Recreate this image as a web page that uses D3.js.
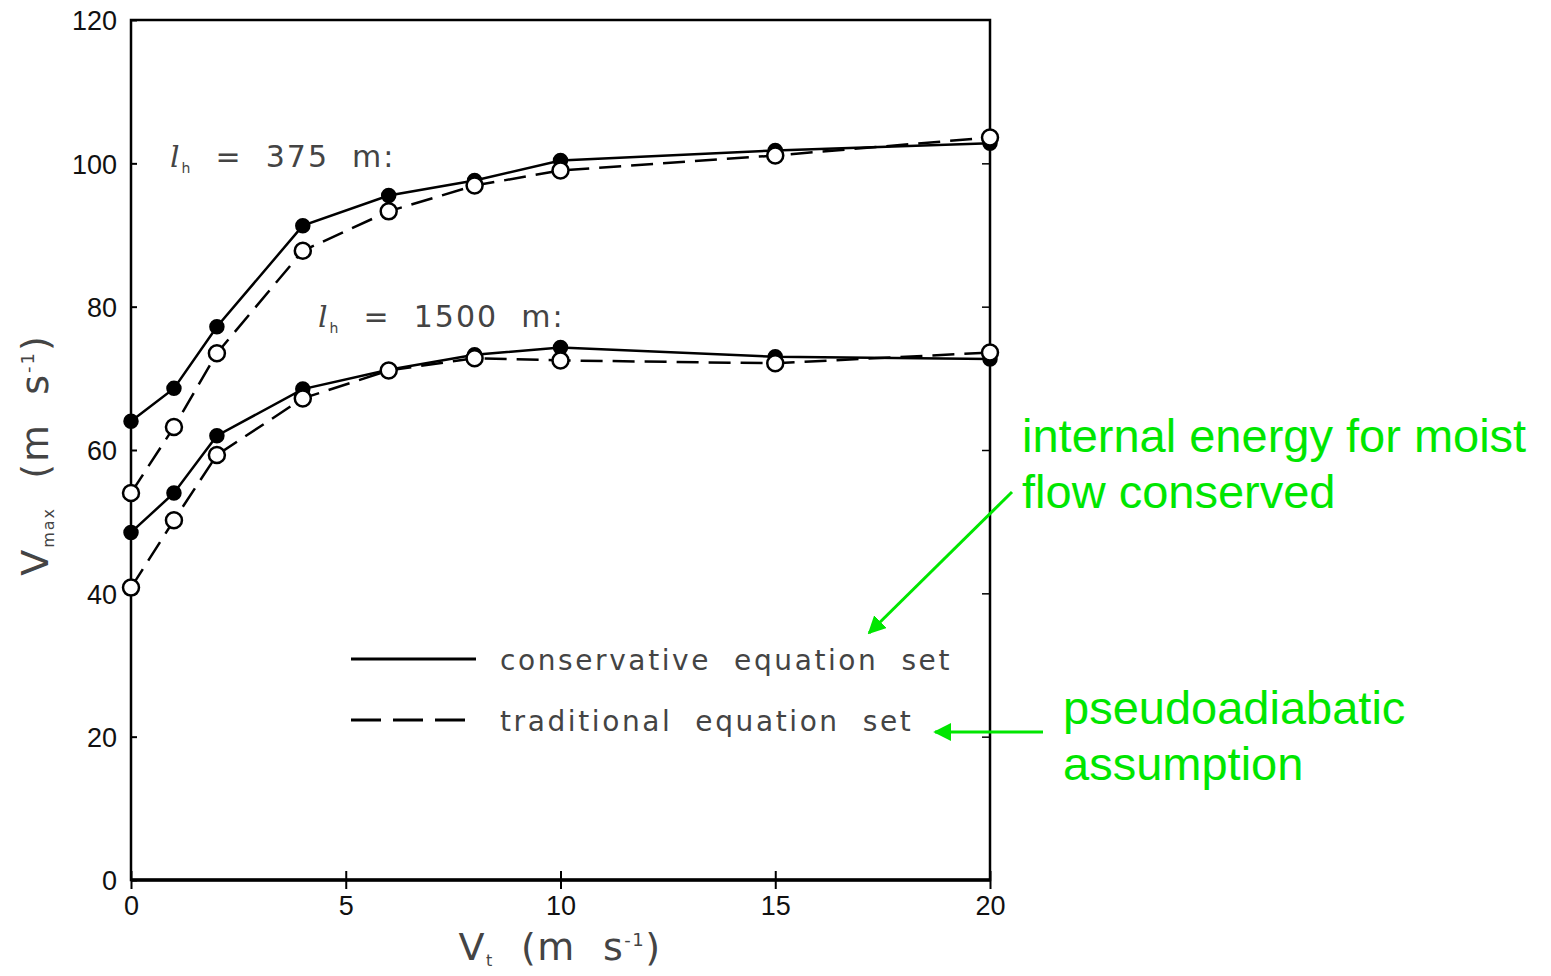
<!DOCTYPE html>
<html>
<head>
<meta charset="utf-8">
<script src="https://cdn.jsdelivr.net/npm/d3@7"></script>
<style>
  body { margin: 0; background: #fff; }
  svg { display: block; }
  .tick text { font-family: "Liberation Sans", Arial, sans-serif; font-size: 27px; fill: #111; }
  .plotfont { font-family: "DejaVu Sans", sans-serif; fill: #444; }
  .note { font-family: "Liberation Sans", Arial, sans-serif; font-size: 47px; fill: #00e600; }
</style>
</head>
<body>
<svg width="1551" height="976"></svg>
<script>
"use strict";

// Vt values (m s-1)
var vt = [0, 1, 2, 4, 6, 8, 10, 15, 20];

// Vmax (m s-1)
var cons375 = [64.0, 68.6, 77.2, 91.3, 95.5, 97.6, 100.4, 101.8, 102.8];
var trad375 = [54.0, 63.2, 73.5, 87.8, 93.3, 96.9, 99.0, 101.1, 103.6];
var cons1500 = [48.5, 54.0, 62.0, 68.5, 71.2, 73.3, 74.3, 73.0, 72.7];
var trad1500 = [40.8, 50.2, 59.3, 67.2, 71.1, 72.8, 72.5, 72.1, 73.6];

var xTicks = [0, 5, 10, 15, 20];
var yTicks = [0, 20, 40, 60, 80, 100, 120];

var svg = d3.select("svg");
var margin = { top: 20, left: 131 };
var width = 859;
var height = 860;

var x = d3.scaleLinear().domain([0, 20]).range([0, width]);
var y = d3.scaleLinear().domain([0, 120]).range([height, 0]);

var g = svg.append("g").attr("transform", "translate(" + margin.left + ", " + margin.top + ")");

// frame
g.append("rect").attr("x", 0).attr("y", 0).attr("width", width).attr("height", height)
    .attr("fill", "none").attr("stroke", "#000").attr("stroke-width", 2.5);
g.append("line").attr("x1", 0).attr("x2", width).attr("y1", height).attr("y2", height)
    .attr("stroke", "#000").attr("stroke-width", 3.5);

// axes (ticks crossing the frame)
var xAxis = g.append("g").attr("transform", "translate(0, " + height + ")")
    .call(d3.axisBottom(x).tickValues(xTicks).tickSize(9).tickPadding(7));
xAxis.select(".domain").remove();
xAxis.selectAll(".tick line").attr("y1", -9).attr("stroke-width", 2);

var yAxis = g.append("g")
    .call(d3.axisLeft(y).tickValues(yTicks).tickSize(10).tickPadding(4));
yAxis.select(".domain").remove();
yAxis.selectAll(".tick line").attr("x2", 6).attr("stroke-width", 2);
yAxis.selectAll(".tick text").attr("dy", "0.36em");

// small inward ticks on right side
var yRight = g.append("g").attr("transform", "translate(" + width + ", 0)")
    .call(d3.axisLeft(y).tickValues([20, 40, 60, 80, 100]).tickSize(8).tickFormat(""));
yRight.select(".domain").remove();
yRight.selectAll(".tick line").attr("stroke-width", 1.5);

// lines
var line = d3.line().x(function (d) { return x(d[0]); }).y(function (d) { return y(d[1]); });

var series = [
    { vals: cons375, dashed: false },
    { vals: trad375, dashed: true },
    { vals: cons1500, dashed: false },
    { vals: trad1500, dashed: true }
];

series.forEach(function (s) {
    var pts = vt.map(function (v, i) { return [v, s.vals[i]]; });
    g.append("path").datum(pts).attr("d", line)
        .attr("fill", "none").attr("stroke", "#000").attr("stroke-width", 2.5)
        .attr("stroke-dasharray", s.dashed ? "22,10" : null);
});

series.forEach(function (s) {
    var pts = vt.map(function (v, i) { return [v, s.vals[i]]; });
    g.selectAll(null).data(pts).enter().append("circle")
        .attr("cx", function (d) { return x(d[0]); })
        .attr("cy", function (d) { return y(d[1]); })
        .attr("r", s.dashed ? 8 : 6.5)
        .attr("fill", s.dashed ? "#fff" : "#000")
        .attr("stroke", "#000").attr("stroke-width", 2.5);
});

// curve labels
function lhLabel(px, py, val) {
    var t = svg.append("text").attr("class", "plotfont").attr("x", px).attr("y", py)
        .attr("font-size", 30).attr("letter-spacing", 2);
    t.append("tspan").attr("font-style", "italic").attr("font-family", "DejaVu Serif").text("l");
    t.append("tspan").attr("font-size", 14).attr("dy", 6).text("h");
    t.append("tspan").attr("dy", -6).attr("xml:space", "preserve").text("  =  " + val + "  m:");
}
lhLabel(170, 167, "375");
lhLabel(318, 327, "1500");

// legend
svg.append("line").attr("x1", 351).attr("x2", 476).attr("y1", 659).attr("y2", 659)
    .attr("stroke", "#000").attr("stroke-width", 3);
svg.append("line").attr("x1", 351).attr("x2", 472).attr("y1", 720).attr("y2", 720)
    .attr("stroke", "#000").attr("stroke-width", 3).attr("stroke-dasharray", "30,12");
svg.append("text").attr("class", "plotfont").attr("x", 500).attr("y", 670)
    .attr("font-size", 28).attr("letter-spacing", 2.6).attr("xml:space", "preserve")
    .text("conservative  equation  set");
svg.append("text").attr("class", "plotfont").attr("x", 500).attr("y", 731)
    .attr("font-size", 28).attr("letter-spacing", 2.6).attr("xml:space", "preserve")
    .text("traditional  equation  set");

// axis titles
var xt = svg.append("text").attr("class", "plotfont").attr("x", 560).attr("y", 960)
    .attr("text-anchor", "middle").attr("font-size", 38).attr("letter-spacing", 1.5)
    .attr("xml:space", "preserve");
xt.append("tspan").text("V");
xt.append("tspan").attr("font-size", 16).attr("dy", 6).text("t");
xt.append("tspan").attr("dy", -6).text("  (m  s");
xt.append("tspan").attr("font-size", 18).attr("dy", -14).text("-1");
xt.append("tspan").attr("dy", 14).text(")");

var yt = svg.append("text").attr("class", "plotfont")
    .attr("transform", "translate(48, 455) rotate(-90)")
    .attr("text-anchor", "middle").attr("font-size", 38).attr("letter-spacing", 2)
    .attr("xml:space", "preserve");
yt.append("tspan").text("V");
yt.append("tspan").attr("font-size", 16).attr("dy", 6).text("max");
yt.append("tspan").attr("dy", -6).text("  (m  s");
yt.append("tspan").attr("font-size", 18).attr("dy", -14).text("-1");
yt.append("tspan").attr("dy", 14).text(")");

// green annotations
var defs = svg.append("defs");
defs.append("marker").attr("id", "arr").attr("viewBox", "0 0 10 10")
    .attr("refX", 9).attr("refY", 5).attr("markerWidth", 6).attr("markerHeight", 6)
    .attr("orient", "auto").attr("markerUnits", "strokeWidth")
    .append("path").attr("d", "M0,0 L10,5 L0,10 z").attr("fill", "#00e600");

svg.append("text").attr("class", "note").attr("x", 1022).attr("y", 452).text("internal energy for moist");
svg.append("text").attr("class", "note").attr("x", 1022).attr("y", 508).text("flow conserved");
svg.append("line").attr("x1", 1012).attr("y1", 492).attr("x2", 869).attr("y2", 633)
    .attr("stroke", "#00e600").attr("stroke-width", 3).attr("marker-end", "url(#arr)");

svg.append("text").attr("class", "note").attr("x", 1063).attr("y", 724).text("pseudoadiabatic");
svg.append("text").attr("class", "note").attr("x", 1063).attr("y", 780).text("assumption");
svg.append("line").attr("x1", 1043).attr("y1", 732).attr("x2", 935).attr("y2", 732)
    .attr("stroke", "#00e600").attr("stroke-width", 3).attr("marker-end", "url(#arr)");
</script>
</body>
</html>
